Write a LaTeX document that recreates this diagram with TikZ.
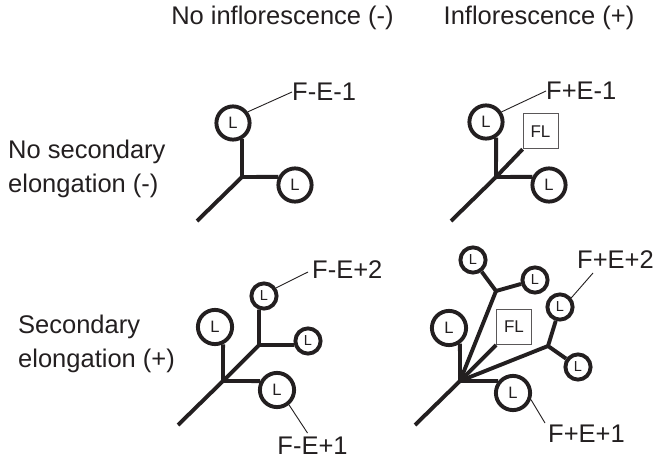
\documentclass[tikz,border=0pt]{standalone}
\usepackage{fontspec}
\setmainfont{Liberation Sans}
\definecolor{ink}{HTML}{231F20}
\begin{document}
\begin{tikzpicture}[x=1pt,y=-1pt,
  lbl/.style={font=\fontsize{25.5}{34}\selectfont, text=ink, inner sep=0pt},
  leaf/.style={circle, draw=ink, line width=3.9pt, inner sep=0pt, minimum size=33.2pt, font=\fontsize{16.5}{18}\selectfont, text=ink},
  bleaf/.style={leaf, minimum size=34.2pt},
  sleaf/.style={leaf, minimum size=25.2pt, font=\fontsize{14.5}{16}\selectfont},
  flbox/.style={draw=ink!75, line width=0.9pt, minimum size=35pt, inner sep=0pt, font=\fontsize{17}{19}\selectfont, text=ink},
  stem/.style={draw=ink, line width=3.9pt, line join=miter},
  tag/.style={draw=ink, line width=0.9pt},
]
\fill[white] (0,0) rectangle (660,460);
\useasboundingbox (0,0) rectangle (660,460);

% headings
\node[lbl] (h1) at (282.5,18) {No inflorescence (-)};
\node[lbl] (h2) at (539,18) {Inflorescence (+)};
\node[lbl, anchor=west, align=left] (r1) at (8,169) {No secondary\\elongation (-)};
\node[lbl, anchor=west, align=left] (r2) at (18,344) {Secondary\\elongation (+)};

% panel 1
\coordinate (j1) at (242,177);
\coordinate (e1) at (197,221);
\node[leaf] (c1a) at (233,123) {L};
\node[leaf] (c1b) at (295,185) {L};
\draw[stem] (c1a.-61) -- (j1) -- (c1b.154);
\draw[stem] (j1) -- (e1);
\node[lbl, anchor=west] (t1) at (292,92) {F-E-1};
\draw[tag] (c1a.37) -- (t1.west);

% panel 2
\coordinate (j2) at (496,177);
\coordinate (e2) at (451,221);
\node[leaf] (c2a) at (486,122) {L};
\node[leaf] (c2b) at (549,185) {L};
\node[flbox] (f2) at (540.5,131.3) {FL};
\draw[stem] (c2a.-57) -- (j2) -- (c2b.154);
\draw[stem] (j2) -- (e2);
\draw[stem] (j2) -- (f2.south west);
\node[lbl, anchor=west] (t2) at (546,91) {F+E-1};
\draw[tag] (c2a.33) -- (t2.west);

% panel 3
\coordinate (j3) at (223,381);
\coordinate (e3) at (178,425);
\coordinate (k3) at (259,345);
\node[bleaf] (c3a) at (215,327) {L};
\node[bleaf] (c3b) at (277,390) {L};
\node[sleaf] (c3c) at (264,296) {L};
\node[sleaf] (c3d) at (308,341) {L};
\draw[stem] (c3a.-65) -- (j3) -- (c3b.152);
\draw[stem] (e3) -- (j3) -- (k3);
\draw[stem] (c3c.-110) -- (k3) -- (c3d.196);
\node[lbl, anchor=west] (t3a) at (312,270) {F-E+2};
\draw[tag] (c3c.34) -- ([shift={(-4,2)}]t3a.west);
\node[lbl, anchor=north] (t3b) at (312.5,437) {F-E+1};
\draw[tag] (c3b.-51) -- ([shift={(-5,-4)}]t3b.north);

% panel 4
\coordinate (j4) at (460,381);
\coordinate (e4) at (415,425);
\coordinate (k4) at (496,291);
\coordinate (m4) at (548,346);
\node[bleaf] (c4a) at (449,328) {L};
\node[bleaf] (c4b) at (513,393) {L};
\node[flbox] (f4) at (514,327) {FL};
\node[sleaf] (c4c) at (473,260) {L};
\node[sleaf] (c4d) at (535,280) {L};
\node[sleaf] (c4e) at (560,307) {L};
\node[sleaf] (c4f) at (578,367) {L};
\draw[stem] (c4a.-55) -- (j4) -- (c4b.141);
\draw[stem] (e4) -- (j4) -- (f4.south west);
\draw[stem] (j4) -- (k4);
\draw[stem] (c4c) -- (k4) -- (c4d);
\draw[stem] (j4) -- (m4);
\draw[stem] (c4e) -- (m4) -- (c4f);
\node[lbl, anchor=west] (t4a) at (577,260) {F+E+2};
\draw[tag] (c4e.39) -- ([shift={(16,13)}]t4a.west);
\node[lbl, anchor=north west] (t4b) at (548,425) {F+E+1};
\draw[tag] (c4b.-20) -- ([shift={(-3,-2)}]t4b.north west);
\end{tikzpicture}
\end{document}
